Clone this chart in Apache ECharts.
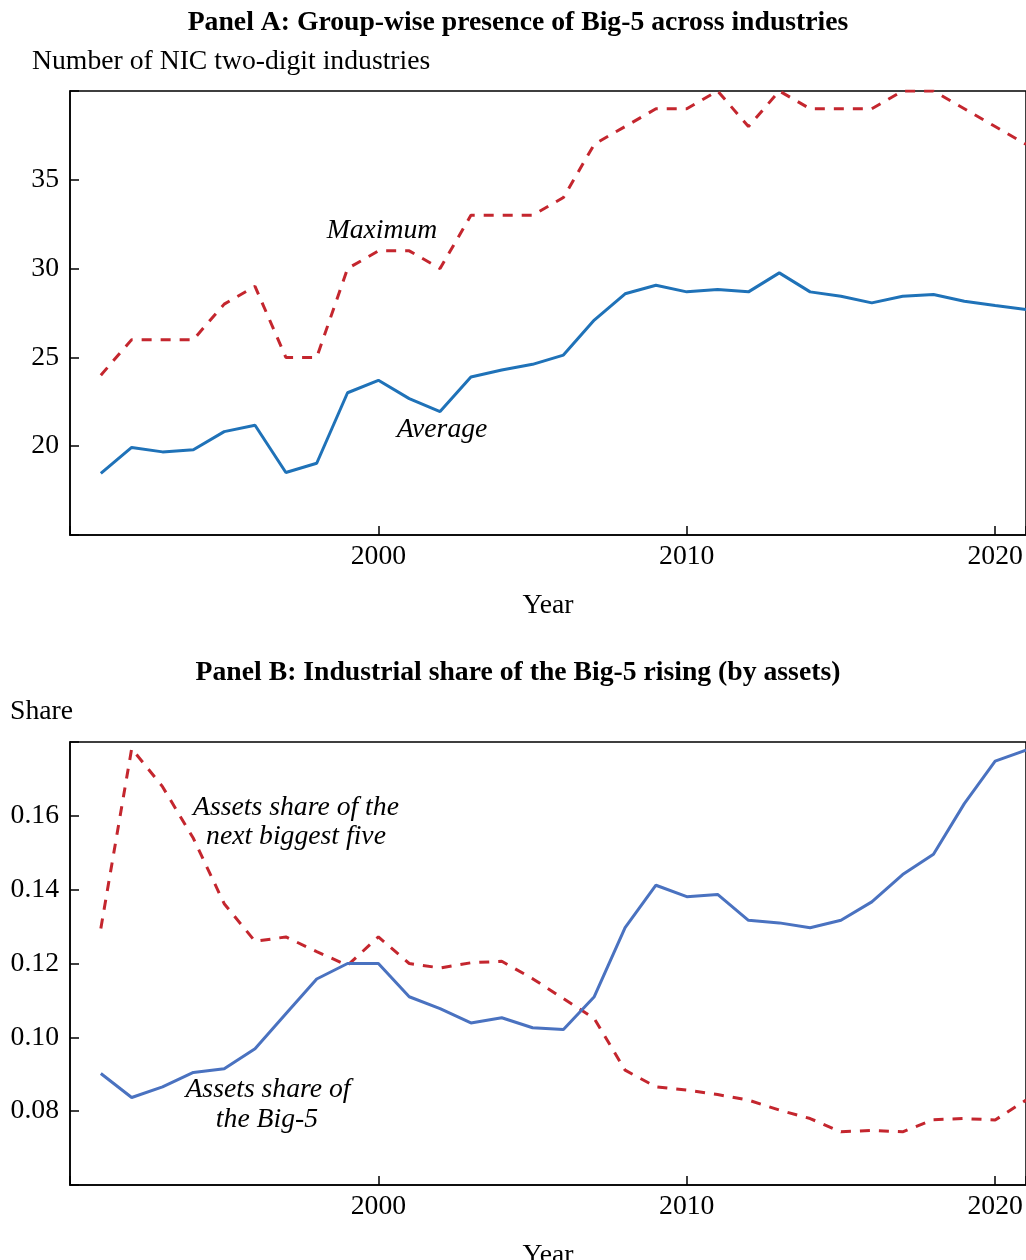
<!DOCTYPE html>
<html>
<head>
<meta charset="utf-8">
<script src="https://cdn.jsdelivr.net/npm/echarts@6/dist/echarts.min.js"></script>
<style>
html,body{margin:0;padding:0;background:#fff;overflow:hidden;width:1026px;height:1260px;}
#chart{position:absolute;left:0;top:0;width:1026px;height:1260px;}
</style>
</head>
<body>
<div id="chart"></div>
<script>
// ---- data ----
const years = [1991,1992,1993,1994,1995,1996,1997,1998,1999,2000,2001,2002,2003,2004,2005,2006,2007,2008,2009,2010,2011,2012,2013,2014,2015,2016,2017,2018,2019,2020,2021];
const maxIndustries = [24,26,26,26,28,29,25,25,30,31,31,30,33,33,33,34,37,38,39,39,40,38,40,39,39,39,40,40,39,38,37];
const avgIndustries = [18.47,19.93,19.68,19.80,20.82,21.18,18.52,19.04,23.01,23.71,22.68,21.95,23.90,24.29,24.61,25.13,27.10,28.58,29.06,28.69,28.82,28.69,29.76,28.69,28.44,28.07,28.44,28.54,28.16,27.92,27.70];
const big5Share = [0.0902,0.0837,0.0866,0.0905,0.0915,0.0969,0.1064,0.1158,0.1200,0.1200,0.1110,0.1078,0.1039,0.1053,0.1026,0.1021,0.1110,0.1297,0.1412,0.1381,0.1387,0.1317,0.1310,0.1297,0.1317,0.1367,0.1441,0.1496,0.1633,0.1748,0.1778];
const next5Share = [0.1295,0.1782,0.1679,0.1539,0.1362,0.1260,0.1272,0.1232,0.1195,0.1272,0.1200,0.1188,0.1202,0.1206,0.1159,0.1105,0.1051,0.0911,0.0866,0.0857,0.0845,0.0830,0.0803,0.0780,0.0744,0.0748,0.0744,0.0777,0.0780,0.0776,0.0830];
const xTickLabels = [2000, 2010, 2020];
const yTicksA = [20, 25, 30, 35];
const yTicksB = [0.08, 0.10, 0.12, 0.14, 0.16];

// ---- chart ----
const FONT = 'Liberation Serif';
const FS = 27.7;
const chart = echarts.init(document.getElementById('chart'), null, {renderer: 'canvas', width: 1026, height: 1260});

function xAxisCfg(gridIndex) {
  return {
    gridIndex: gridIndex, type: 'value', min: 1990, max: 2021, interval: 10,
    name: 'Year', nameLocation: 'middle', nameGap: 57,
    nameTextStyle: {fontFamily: FONT, fontSize: FS, color: '#000'},
    axisLine: {show: true, lineStyle: {color: '#000', width: 1.5}},
    axisTick: {show: true, inside: true, length: 9, lineStyle: {color: '#000', width: 1.5}},
    axisLabel: {
      fontFamily: FONT, fontSize: FS, color: '#000', margin: 8,
      formatter: v => xTickLabels.includes(v) ? String(v) : ''
    },
    splitLine: {show: false}
  };
}
function yAxisCfg(gridIndex, min, max, interval, ticks, fmt) {
  return {
    gridIndex: gridIndex, type: 'value', min: min, max: max, interval: interval,
    axisLine: {show: true, lineStyle: {color: '#000', width: 1.5}},
    axisTick: {show: true, inside: true, length: 9, lineStyle: {color: '#000', width: 1.5}},
    axisLabel: {
      fontFamily: FONT, fontSize: FS, color: '#000', margin: 11,
      formatter: v => ticks.some(t => Math.abs(t - v) < 1e-9) ? fmt(v) : ''
    },
    splitLine: {show: false}
  };
}
function txt(text, x, y, opts) {
  return {
    type: 'text', x: x, y: y, z: 10,
    style: Object.assign({
      text: text, font: FS + 'px "' + FONT + '"', fill: '#000',
      textAlign: 'center', textVerticalAlign: 'middle'
    }, opts || {})
  };
}

const option = {
  backgroundColor: '#fff',
  animation: false,
  grid: [
    {left: 70, top: 91, width: 956, height: 444, show: true, borderColor: '#000', borderWidth: 1.5, containLabel: false, outerBoundsMode: 'none'},
    {left: 70, top: 742, width: 956, height: 443, show: true, borderColor: '#000', borderWidth: 1.5, containLabel: false, outerBoundsMode: 'none'}
  ],
  xAxis: [xAxisCfg(0), xAxisCfg(1)],
  yAxis: [
    yAxisCfg(0, 15, 40, 5, yTicksA, v => String(v)),
    yAxisCfg(1, 0.06, 0.18, 0.02, yTicksB, v => v.toFixed(2))
  ],
  series: [
    {
      name: 'Maximum', type: 'line', xAxisIndex: 0, yAxisIndex: 0,
      data: years.map((y, i) => [y, maxIndustries[i]]),
      symbol: 'none', clip: true,
      lineStyle: {color: '#c4262e', width: 3, type: [10, 9]}
    },
    {
      name: 'Average', type: 'line', xAxisIndex: 0, yAxisIndex: 0,
      data: years.map((y, i) => [y, avgIndustries[i]]),
      symbol: 'none', clip: true,
      lineStyle: {color: '#1f72b8', width: 3}
    },
    {
      name: 'Assets share of the next biggest five', type: 'line', xAxisIndex: 1, yAxisIndex: 1,
      data: years.map((y, i) => [y, next5Share[i]]),
      symbol: 'none', clip: true,
      lineStyle: {color: '#c4262e', width: 3, type: [10, 9]}
    },
    {
      name: 'Assets share of the Big-5', type: 'line', xAxisIndex: 1, yAxisIndex: 1,
      data: years.map((y, i) => [y, big5Share[i]]),
      symbol: 'none', clip: true,
      lineStyle: {color: '#4a72c0', width: 3}
    }
  ],
  graphic: [
    txt('Panel A: Group-wise presence of Big-5 across industries', 518, 23, {font: 'bold ' + FS + 'px "' + FONT + '"'}),
    txt('Number of NIC two-digit industries', 32, 62, {textAlign: 'left'}),
    txt('Maximum', 382, 231, {font: 'italic ' + FS + 'px "' + FONT + '"'}),
    txt('Average', 442, 430, {font: 'italic ' + FS + 'px "' + FONT + '"'}),
    txt('Panel B: Industrial share of the Big-5 rising (by assets)', 518, 673, {font: 'bold ' + FS + 'px "' + FONT + '"'}),
    txt('Share', 10, 712, {textAlign: 'left'}),
    txt('Assets share of the', 296, 808, {font: 'italic ' + FS + 'px "' + FONT + '"'}),
    txt('next biggest five', 296, 837, {font: 'italic ' + FS + 'px "' + FONT + '"'}),
    txt('Assets share of', 268, 1090, {font: 'italic ' + FS + 'px "' + FONT + '"'}),
    txt('the Big-5', 267, 1120, {font: 'italic ' + FS + 'px "' + FONT + '"'})
  ]
};
chart.setOption(option);
</script>
</body>
</html>
